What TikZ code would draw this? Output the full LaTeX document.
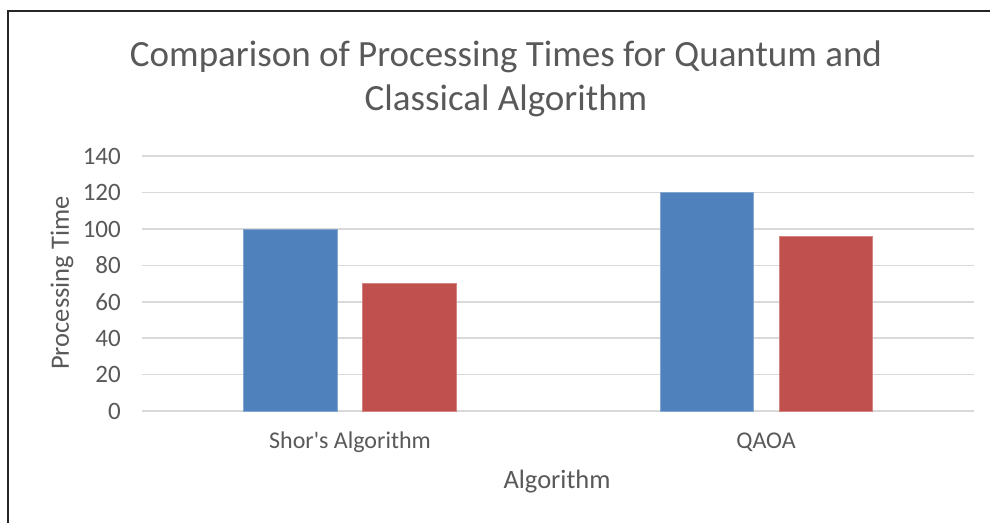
\documentclass[tikz,border=0pt]{standalone}
\usepackage{fontspec}
\setmainfont{Carlito}
\usetikzlibrary{positioning}

\definecolor{quantum}{HTML}{4F81BD}
\definecolor{classical}{HTML}{C0504D}
\definecolor{txtgray}{HTML}{595959}
\definecolor{gridgray}{HTML}{D9D9D9}

% one unit of processing time in pt
\newcommand{\ppu}{1.82}

\begin{document}
\begin{tikzpicture}[x=1pt,y=1pt,
  tick/.style={anchor=east,inner sep=0pt,text=txtgray,
    font=\fontsize{25}{28}\selectfont},
  catlabel/.style={inner sep=0pt,text=txtgray,font=\fontsize{24}{27}\selectfont},
  axtitle/.style={inner sep=0pt,text=txtgray,font=\fontsize{26.5}{30}\selectfont},
  gridline/.style={draw=gridgray,line width=1.6pt},
  qbar/.style={fill=quantum,draw=quantum!70!white,line width=0.6pt},
  cbar/.style={fill=classical,draw=classical!70!white,line width=0.6pt}]
\useasboundingbox (0,0) rectangle (990,522);
\fill[white] (0,0) rectangle (990,522);
\draw[line width=1.2pt,black!85] (8,-5) -- (8,511) -- (995,511);

% title
\node[text=txtgray,align=center,font=\fontsize{37}{44}\selectfont] (title) at (506,443)
  {Comparison of Processing Times for Quantum and\\Classical Algorithm};

% grid and tick labels
\foreach \v in {0,20,...,140}{
  \draw[gridline] (142,111+\v*\ppu) -- (974,111+\v*\ppu);
  \node[tick] (t\v) at (121,111+\v*\ppu) {\v};
}

% bars
\filldraw[qbar] (243,111) rectangle (337,111+100*\ppu);
\filldraw[cbar] (362,111) rectangle (456,111+70*\ppu);
\filldraw[qbar] (660,111) rectangle (753,111+120*\ppu);
\filldraw[cbar] (779,111) rectangle (872,111+96*\ppu);

% labels
\node[catlabel] (shor) at (350,80) {Shor\textquotesingle s Algorithm};
\node[catlabel] (qaoa) at (766,80) {QAOA};
\node[axtitle] (xtitle) at (557,40) {Algorithm};
\node[axtitle,rotate=90] (ytitle) at (62,239) {Processing Time};
\end{tikzpicture}
\end{document}
